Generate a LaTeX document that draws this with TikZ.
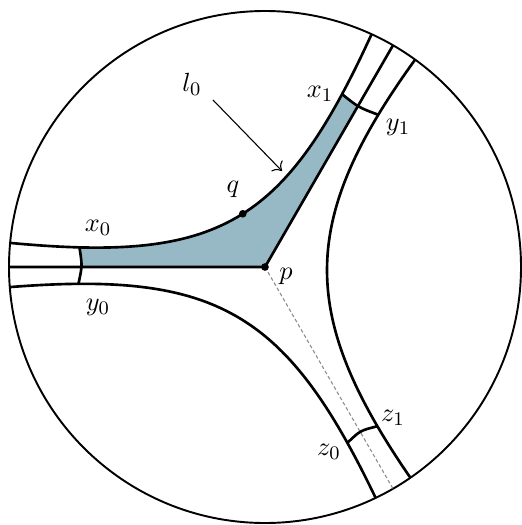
\documentclass[tikz,border=0pt]{standalone}
\usetikzlibrary{calc,arrows.meta}
\definecolor{shadecol}{RGB}{150,185,197}
\definecolor{dashcol}{RGB}{140,140,140}
\begin{document}
\begin{tikzpicture}[x=0.4167pt,y=-0.4167pt,
  geo/.style={line width=1.1pt},
  rim/.style={line width=0.8pt},
  dashline/.style={dashcol,line width=0.45pt,dash pattern=on 1.5pt off 1pt},
  dot/.style={circle,fill,inner sep=0pt,minimum size=3.2pt},
  lab/.style={inner sep=0pt,font=\fontsize{11}{13}\selectfont}]
\useasboundingbox (0,0) rectangle (521,525);
% centre and ideal points
\coordinate (O) at (265,267);
\coordinate (R180) at (9,267);
\coordinate (R60) at (393,45.3);
\coordinate (R300) at (393,488.7);
% upper geodesic
\coordinate (A1) at (10.14,242.91);
\coordinate (A2) at (371.57,34.23);
\coordinate (cU1) at (219.20,262.67);
\coordinate (cU2) at (284.15,225.17);
% lower geodesic
\coordinate (B1) at (9.79,287.09);
\coordinate (B2) at (375.61,497.87);
\coordinate (cL1) at (216.15,270.84);
\coordinate (cL2) at (286.17,311.19);
% right geodesic
\coordinate (C1) at (415.11,59.63);
\coordinate (C2) at (410.37,477.72);
\coordinate (cR1) at (299.01,220.02);
\coordinate (cR2) at (297.93,314.74);
% points on the geodesics
\path (A1) .. controls (cU1) and (cU2) .. (A2)
  coordinate[pos=0.12] (x0) coordinate[pos=0.885] (x1) coordinate[pos=0.52] (q);
\path (B1) .. controls (cL1) and (cL2) .. (B2)
  coordinate[pos=0.12] (y0) coordinate[pos=0.893] (z0);
\path (C1) .. controls (cR1) and (cR2) .. (C2)
  coordinate[pos=0.12] (y1) coordinate[pos=0.89] (z1);
\coordinate (kx0) at ($(x0)!0.5!(y0)!1.4pt!90:(y0)$);
\coordinate (kx1) at ($(x1)!0.5!(y1)!1.4pt!-90:(y1)$);
\coordinate (kz) at ($(z0)!0.5!(z1)!1.9pt!90:(z1)$);
% shaded region
\begin{scope}
  \clip (A1) .. controls (cU1) and (cU2) .. (A2) -- (R60) -- (O) -- (R180) -- cycle;
  \fill[shadecol] (x0) .. controls (kx0) .. (y0) -- (O) -- (y1) .. controls (kx1) .. (x1) -- cycle;
\end{scope}
% drawing
\draw[rim] (O) circle[radius=256];
\draw[dashline] (O) -- (R300);
\draw[geo] (A1) .. controls (cU1) and (cU2) .. (A2);
\draw[geo] (B1) .. controls (cL1) and (cL2) .. (B2);
\draw[geo] (C1) .. controls (cR1) and (cR2) .. (C2);
\draw[geo] (R180) -- (O) -- (R60);
\draw[geo] (x0) .. controls (kx0) .. (y0);
\draw[geo] (x1) .. controls (kx1) .. (y1);
\draw[geo] (z0) .. controls (kz) .. (z1);
\node[dot] (pdot) at (O) {};
\node[dot] (qdot) at (q) {};
% labels
\node[lab] (l0) at (192,84) {$l_0$};
\node[lab] (lx0) at (98,228) {$x_0$};
\node[lab] (ly0) at (98,307) {$y_0$};
\node[lab] (lx1) at (320,94) {$x_1$};
\node[lab] (ly1) at (398,127) {$y_1$};
\node[lab] (lz0) at (329,452) {$z_0$};
\node[lab] (lz1) at (393,418) {$z_1$};
\node[lab] (lp) at (286,276) {$p$};
\node[lab] (lq) at (233,189) {$q$};
\coordinate (arrA) at (213,100);
\coordinate (arrB) at (282,171);
\draw[line width=0.45pt,-{To[length=3.2pt,width=6.5pt]}] (arrA) -- (arrB);
\end{tikzpicture}
\end{document}
